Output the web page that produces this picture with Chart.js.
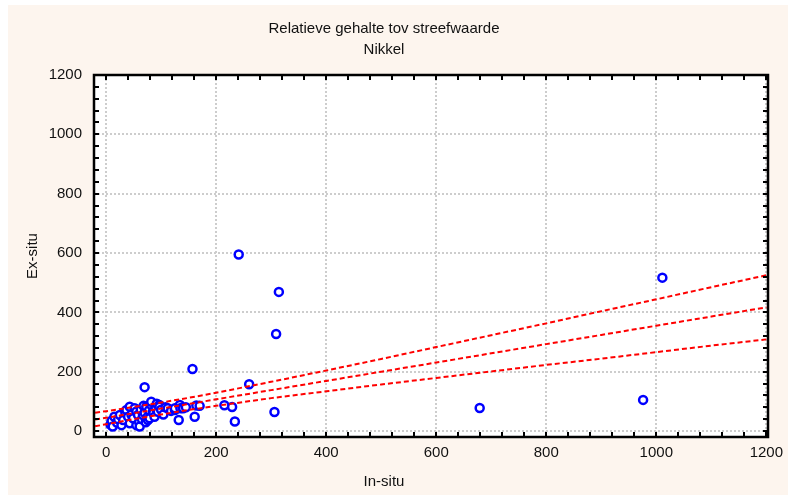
<!DOCTYPE html>
<html>
<head>
<meta charset="utf-8">
<script src="https://cdn.jsdelivr.net/npm/chart.js@4"></script>
<style>
  html, body { margin: 0; padding: 0; overflow: hidden; background: #ffffff; width: 796px; height: 500px; }
  #panel { position: absolute; left: 8px; top: 5px; width: 780px; height: 490px; background: #fdf5ee; }
  #c { position: absolute; left: 0; top: 0; }
</style>
</head>
<body>
<div id="panel"></div>
<canvas id="c" width="828" height="500"></canvas>
<script>
// ---- data ----
const titleLines = ['Relatieve gehalte tov streefwaarde', 'Nikkel'];
const xTitle = 'In-situ';
const yTitle = 'Ex-situ';

const inSitu = [8, 10, 12, 15, 20, 22, 25, 28, 31, 35, 37, 40, 43, 43, 46, 49, 52, 55, 55, 58,
                60, 61, 63, 65, 67, 68, 70, 72, 73, 75, 76, 78, 79, 82, 82, 85, 86, 88, 90, 92,
                94, 97, 97, 100, 104, 108, 112, 118, 125, 125, 132, 134, 135, 139, 140, 145, 161, 164, 170, 70,
                157, 215, 229, 234, 241, 260, 306, 309, 314, 679, 976, 1011];
const exSitu = [22, 35, 15, 48, 28, 40, 54, 20, 37, 62, 71, 48, 26, 82, 56, 43, 77, 20, 66, 54,
                30, 15, 72, 40, 54, 85, 62, 30, 82, 47, 37, 70, 43, 88, 99, 65, 61, 48, 78, 92,
                65, 88, 82, 72, 56, 80, 77, 68, 71, 77, 37, 88, 77, 79, 77, 80, 48, 86, 85, 148,
                209, 87, 81, 32, 595, 158, 64, 327, 469, 78, 105, 517];

const fitX     = [-20, 0, 50, 100, 150, 200, 300, 400, 500, 600, 700, 800, 900, 1000, 1100, 1200];
const fitMid   = [39, 45, 60, 76, 91, 107, 138, 169, 200, 231, 262, 293, 324, 355, 386, 417];
const fitUpper = [62, 67, 81, 96, 112, 129, 166, 204, 243, 283, 323, 363, 404, 444, 485, 525];
const fitLower = [16, 23, 40, 56, 71, 85, 111, 134, 157, 179, 201, 223, 244, 266, 288, 309];

const xTickLabels = [0, 200, 400, 600, 800, 1000, 1200];
const yTickLabels = [0, 200, 400, 600, 800, 1000, 1200];

// ---- build ----
const pts = inSitu.map((x, i) => ({x: x, y: exSitu[i]}));
const line = arr => fitX.map((x, i) => ({x: x, y: arr[i]}));

const FONT = "'Liberation Sans', Arial, sans-serif";

const lineStyle = {
  showLine: true, pointRadius: 0, borderColor: '#ff0000', borderWidth: 2,
  borderDash: [5, 3], fill: false, tension: 0
};

const framePlugin = {
  id: 'frame',
  beforeDraw(chart) {
    const a = chart.chartArea, ctx = chart.ctx;
    ctx.save();
    ctx.fillStyle = '#ffffff';
    ctx.fillRect(a.left, a.top, a.right - a.left, a.bottom - a.top);
    ctx.restore();
  },
  afterDraw(chart) {
    const a = chart.chartArea, ctx = chart.ctx;
    const xs = chart.scales.x, ys = chart.scales.y;
    ctx.save();
    ctx.strokeStyle = '#000000';
    ctx.lineWidth = 2;
    ctx.beginPath();
    xs.ticks.forEach(t => {
      const px = Math.round(xs.getPixelForValue(t.value));
      ctx.moveTo(px, a.bottom); ctx.lineTo(px, a.bottom - 5);
      ctx.moveTo(px, a.top); ctx.lineTo(px, a.top + 5);
    });
    ys.ticks.forEach(t => {
      const py = Math.round(ys.getPixelForValue(t.value));
      ctx.moveTo(a.left, py); ctx.lineTo(a.left + 5, py);
      ctx.moveTo(a.right, py); ctx.lineTo(a.right - 5, py);
    });
    ctx.stroke();
    ctx.lineWidth = 2.5;
    ctx.strokeRect(a.left, a.top, a.right - a.left, a.bottom - a.top);
    ctx.restore();
  }
};

const gridColor = c => (c.tick && c.tick.value % 200 === 0) ? '#cdcdcd' : 'rgba(0,0,0,0)';

new Chart(document.getElementById('c'), {
  type: 'scatter',
  data: {
    datasets: [
      { label: 'Upper', data: line(fitUpper), ...lineStyle },
      { label: 'Fit', data: line(fitMid), ...lineStyle },
      { label: 'Lower', data: line(fitLower), ...lineStyle },
      { label: 'Nikkel', data: pts, pointRadius: 4, pointBorderWidth: 2.5,
        pointBorderColor: '#0000ff', pointBackgroundColor: '#ffffff',
        borderColor: '#0000ff', backgroundColor: '#ffffff' }
    ]
  },
  options: {
    responsive: false,
    animation: false,
    devicePixelRatio: 1,
    layout: { padding: { left: 0, right: 60, top: 0, bottom: 0 } },
    plugins: {
      legend: { display: false },
      tooltip: { enabled: false },
      title: {
        display: true, text: titleLines, color: '#111111',
        font: { family: FONT, size: 15, weight: 'normal', lineHeight: 1.4 },
        padding: { top: 18, bottom: 15 }
      },
      subtitle: {
        display: true, text: xTitle, position: 'bottom', color: '#111111',
        font: { family: FONT, size: 15, weight: 'normal', lineHeight: 1.2 },
        padding: { top: 6, bottom: 9 }
      }
    },
    scales: {
      x: {
        type: 'linear', min: -22, max: 1203,
        afterFit: s => { s.height = 30; },
        ticks: {
          stepSize: 40, includeBounds: false, autoSkip: false, maxRotation: 0,
          maxTicksLimit: 1000, padding: 7, color: '#111111',
          font: { family: FONT, size: 15 },
          callback: v => xTickLabels.includes(v) ? String(v) : ''
        },
        grid: { color: gridColor, lineWidth: 2, drawTicks: false },
        border: { display: false, dash: [2, 2] },
        title: { display: false }
      },
      y: {
        type: 'linear', min: -20, max: 1200,
        afterFit: s => { s.width = 94; },
        ticks: {
          stepSize: 40, includeBounds: false, autoSkip: false,
          maxTicksLimit: 1000, padding: 12, color: '#111111',
          font: { family: FONT, size: 15 },
          callback: v => yTickLabels.includes(v) ? String(v) : ''
        },
        grid: { color: gridColor, lineWidth: 2, drawTicks: false },
        border: { display: false, dash: [2, 2] },
        title: {
          display: true, text: yTitle, color: '#111111',
          font: { family: FONT, size: 15, weight: 'normal', lineHeight: 1.2 },
          padding: { top: 24, bottom: 0 }
        }
      }
    }
  },
  plugins: [framePlugin]
});
</script>
</body>
</html>
